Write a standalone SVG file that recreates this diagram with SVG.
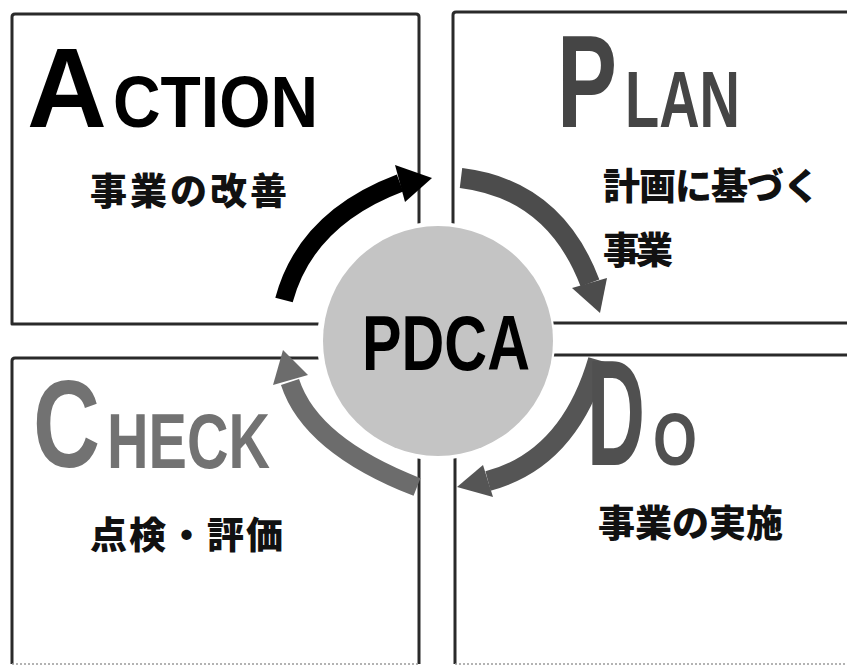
<svg xmlns="http://www.w3.org/2000/svg" width="847" height="666" viewBox="0 0 847 666">
<style>
.box{fill:none;stroke:#2a2a2a;stroke-width:3;stroke-linejoin:round}
.base{fill:none;stroke:#9a9a9a;stroke-width:1.5;stroke-dasharray:2 2}
.big{font-family:"Liberation Sans",Arial,sans-serif;font-weight:bold}
.jp{font-family:"Noto Sans CJK JP","Noto Sans CJK SC",sans-serif;font-weight:900;font-size:37px;fill:#111}
.body{fill:none;stroke-linecap:butt}
</style>
<rect x="0" y="0" width="847" height="666" fill="#ffffff"/>

<g id="node-action">
<path class="box" d="M12,324 L12,17 Q12,14 15,14 L416,14 Q419,14 419,17 L419,324 Z"/>
<text class="big" transform="translate(27,127) scale(0.97,1)" font-size="114" fill="#000">A</text>
<text class="big" x="113" y="127" font-size="72" textLength="205" lengthAdjust="spacingAndGlyphs" fill="#000">CTION</text>
<text class="jp" x="90" y="205" textLength="197">事業の改善</text>
</g>

<g id="node-plan">
<path class="box" d="M860,12 L456,12 Q453,12 453,15 L453,323 L860,323"/>
<text class="big" transform="translate(557,127) scale(0.687,1)" font-size="131" fill="#454545">P</text>
<text class="big" x="625" y="127" font-size="80" textLength="115" lengthAdjust="spacingAndGlyphs" fill="#454545">LAN</text>
<text class="jp" x="603" y="200" textLength="217">計画に基づく</text>
<text class="jp" x="603" y="264" textLength="70">事業</text>
</g>

<g id="node-check">
<path class="box" d="M12,664 L12,361 Q12,358 15,358 L416,358 Q419,358 419,361 L419,664"/>
<line class="base" x1="12" y1="664" x2="419" y2="664"/>
<text class="big" transform="translate(33,467) scale(0.749,1)" font-size="124" fill="#727272">C</text>
<text class="big" x="107" y="468" font-size="77" textLength="163" lengthAdjust="spacingAndGlyphs" fill="#727272">HECK</text>
<text class="jp" x="90" y="549" textLength="193">点検・評価</text>
</g>

<g id="node-do">
<path class="box" d="M860,355 L458,355 Q455,355 455,358 L455,664"/>
<line class="base" x1="455" y1="664" x2="847" y2="664"/>
</g>

<g id="node-center">
<circle cx="436" cy="341" r="119" fill="#ffffff"/>
<circle cx="438" cy="341" r="115" fill="#c4c4c4"/>
<text class="big" x="362" y="370" font-size="77" textLength="168" lengthAdjust="spacingAndGlyphs" fill="#000">PDCA</text>
</g>

<g id="connectors">
<path class="body" d="M284,300 Q306,218.5 400,183" stroke="#000" stroke-width="18"/>
<polygon points="395,165 432,178 405,202" fill="#000"/>
<path class="body" d="M461,178 Q554.5,189.5 590,283" stroke="#4c4c4c" stroke-width="20"/>
<polygon points="572,288 607,278 600,313" fill="#4c4c4c"/>
<path class="body" d="M598,360 Q569,459.5 488,481" stroke="#555555" stroke-width="20"/>
<polygon points="483,465 493,497 457,487" fill="#555555"/>
<path class="body" d="M417,487 Q310.5,445.5 290,382" stroke="#6c6c6c" stroke-width="19"/>
<polygon points="273,385 308,375 283,350" fill="#6c6c6c"/>
</g>

<g id="node-do-label">
<text class="big" transform="translate(587,465) scale(0.536,1)" font-size="150" fill="#505050">D</text>
<text class="big" x="653" y="465" font-size="74" textLength="44" lengthAdjust="spacingAndGlyphs" fill="#505050">O</text>
<text class="jp" x="598" y="537" textLength="185">事業の実施</text>
</g>
</svg>
